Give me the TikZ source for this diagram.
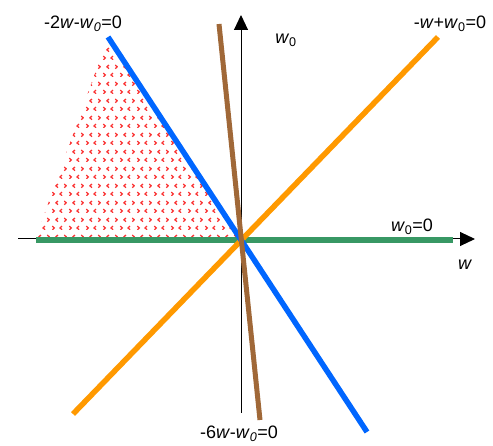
\documentclass[tikz,border=0pt]{standalone}
\usepackage{fontspec}
\setmainfont{Liberation Sans}
\usetikzlibrary{arrows.meta,patterns.meta}
\definecolor{lblue}{RGB}{0,102,255}
\definecolor{lorange}{RGB}{255,153,0}
\definecolor{lgreen}{RGB}{56,152,100}
\definecolor{lbrown}{RGB}{160,104,56}
\definecolor{lred}{RGB}{250,50,50}
\tikzdeclarepattern{
  name=chevs,
  type=uncolored,
  bottom left={(0pt,0pt)},
  top right={(16.6pt,16.6pt)},
  tile size={(16.6pt,16.6pt)},
  code={
    \draw[line width=1.3pt] (2.4pt,4.0pt) -- (4.4pt,2.1pt) -- (2.4pt,0.2pt);
    \draw[line width=1.3pt] (12.3pt,4.0pt) -- (10.3pt,2.1pt) -- (12.3pt,0.2pt);
    \draw[line width=1.3pt] (8.1pt,12.3pt) -- (6.1pt,10.4pt) -- (8.1pt,8.5pt);
    \draw[line width=1.3pt] (14.6pt,12.3pt) -- (16.6pt,10.4pt) -- (14.6pt,8.5pt);
  }
}
\tikzset{
  eqline/.style={line width=5.5pt},
  axis/.style={line width=1pt,-{Triangle[length=15pt,width=14pt]}},
  lbl/.style={inner sep=0pt,font=\fontsize{18}{20}\selectfont}
}
\begin{document}
\begin{tikzpicture}[x=1pt,y=-1pt]
\useasboundingbox (0,0) rectangle (493,446);
% named points
\coordinate (O) at (241,239);
\coordinate (xl) at (18,239);
\coordinate (xr) at (475,239);
\coordinate (yb) at (241,413);
\coordinate (yt) at (241,15);
\coordinate (bT) at (108,37);
\coordinate (bB) at (367,432);
\coordinate (oT) at (438,37);
\coordinate (oB) at (73,414);
\coordinate (nT) at (219,24);
\coordinate (nB) at (260,420);
\coordinate (gL) at (36,240);
\coordinate (gR) at (453,240);
\coordinate (tL) at (35,240);
% shaded region
\fill[pattern=chevs,pattern color=lred] (tL) -- (bT) -- (O) -- cycle;
% axes
\draw[axis] (xl) -- (xr);
\draw[axis] (yb) -- (yt);
% lines
\draw[eqline,lgreen] (gL) -- (gR);
\draw[eqline,lorange] (oB) -- (oT);
\draw[eqline,lblue] (bT) -- (bB);
\draw[eqline,lbrown,line width=5pt] (nT) -- (nB);
% labels
\node[lbl] (l1) at (83,24) {-2\textit{w}-\textit{w}\textsubscript{\textit{0}}=0};
\node[lbl] (l2) at (450,24) {-\textit{w}+\textit{w}\textsubscript{0}=0};
\node[lbl] (l3) at (239,434) {-6\textit{w}-\textit{w}\textsubscript{\textit{0}}=0};
\node[lbl] (l4) at (286,40) {\textit{w}\textsubscript{0}};
\node[lbl] (l5) at (412,227) {\textit{w}\textsubscript{0}=0};
\node[lbl] (l6) at (465,265) {\textit{w}};
\end{tikzpicture}
\end{document}
